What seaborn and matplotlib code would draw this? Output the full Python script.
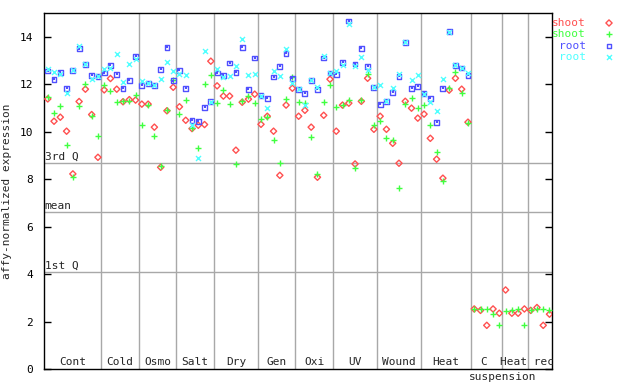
import numpy as np
import pandas as pd
import seaborn as sns
from matplotlib import pyplot as plt

# experiment groups along the x axis and how many samples each holds
groups = ["Cont", "Cold", "Osmo", "Salt", "Dry", "Gen", "Oxi", "UV", "Wound", "Heat", "C", "Heat", "rec"]
group_sizes = [9, 6, 6, 6, 7, 6, 6, 7, 7, 8, 5, 4, 4]

shoot_red = [
    11.38, 10.44, 10.61, 10.02, 8.22, 11.27, 11.79, 10.72, 8.92,
    11.76, 12.24, 11.79, 11.26, 11.35, 11.33,
    11.16, 11.16, 10.19, 8.50, 10.88, 11.87,
    11.05, 10.48, 10.13, 10.27, 10.30, 12.97,
    11.93, 11.50, 11.50, 9.22, 11.24, 11.37, 11.58,
    10.31, 10.65, 10.02, 8.16, 11.12, 11.83,
    10.65, 10.90, 10.19, 8.08, 10.69, 12.21,
    10.02, 11.12, 11.20, 8.64, 11.28, 12.25, 10.10,
    10.65, 10.10, 9.51, 8.67, 11.28, 10.99, 10.57,
    10.74, 9.72, 8.84, 8.04, 11.75, 12.25, 11.79, 10.40,
    2.53, 2.47, 1.84, 2.53, 2.35,
    3.33, 2.35, 2.35, 2.53,
    2.47, 2.59, 1.84, 2.31,
]
shoot_green = [
    11.45, 10.78, 11.07, 9.44, 8.08, 11.07, 12.00, 10.68, 9.81,
    11.96, 11.72, 11.24, 11.31, 11.28, 11.54,
    10.30, 11.12, 9.81, 8.57, 10.92, 12.17,
    10.74, 11.33, 10.15, 9.30, 12.00, 12.38,
    11.21, 11.75, 11.16, 8.64, 11.28, 11.50, 11.20,
    10.55, 10.61, 9.64, 8.67, 11.37, 12.30,
    11.24, 11.20, 9.77, 8.22, 11.24, 11.96,
    11.03, 11.12, 11.33, 8.46, 11.33, 12.42, 10.27,
    10.44, 9.72, 9.64, 7.61, 11.16, 11.41, 10.99,
    11.12, 10.27, 9.13, 7.91, 11.83, 12.52, 11.62, 10.36,
    2.53, 2.53, 2.53, 2.31, 1.84,
    2.44, 2.47, 2.53, 1.84,
    2.47, 2.53, 2.53, 2.47,
]
root_blue = [
    12.56, 12.21, 12.51, 11.83, 12.59, 13.49, 12.83, 12.37, 12.34,
    12.47, 12.80, 12.42, 11.83, 12.17, 13.18,
    11.96, 12.03, 11.96, 12.63, 13.56, 12.14,
    12.59, 11.83, 10.48, 10.44, 11.02, 11.26,
    12.47, 12.38, 12.89, 12.51, 13.56, 11.79, 13.10,
    11.52, 11.41, 12.30, 12.76, 13.31, 12.25,
    11.79, 11.62, 12.17, 11.79, 13.10, 12.47,
    12.42, 12.93, 14.66, 12.85, 13.52, 12.76, 11.87,
    11.16, 11.28, 11.66, 12.34, 13.77, 11.83, 11.92,
    11.62, 11.41, 10.40, 11.83, 14.22, 12.79, 12.68, 12.38,
]
root_cyan = [
    12.63, 12.51, 12.44, 11.62, 12.59, 13.62, 12.86, 12.24, 12.34,
    12.63, 12.69, 13.27, 12.10, 12.86, 13.07,
    12.13, 12.03, 11.96, 12.21, 12.93, 12.55,
    12.44, 12.38, 10.26, 8.88, 13.41, 11.26,
    12.62, 12.30, 12.34, 12.76, 13.90, 12.38, 12.42,
    11.52, 10.99, 12.55, 12.34, 13.48, 12.04,
    11.79, 11.12, 12.17, 11.87, 13.17, 12.47,
    12.55, 12.80, 14.55, 12.76, 13.14, 12.59, 11.87,
    11.96, 11.28, 11.83, 12.42, 13.77, 12.17, 12.38,
    11.58, 11.24, 10.86, 12.21, 14.22, 12.79, 12.68, 12.47,
]

q3_value = 8.67
mean_value = 6.61
q1_value = 4.08

series = [
    ("shoot", shoot_red, "#ff5050", "D"),
    ("shoot", shoot_green, "#40ff40", "+"),
    ("root", root_blue, "#5050ff", "s"),
    ("root", root_cyan, "#50ffff", "x"),
]

sns.set_style("ticks")
plt.rcParams["font.family"] = ["DejaVu Sans Mono"]
plt.rcParams["font.size"] = 8

fig = plt.figure(figsize=(6.4, 3.84), dpi=100)
ax = fig.add_axes([44 / 640, 15 / 384, 508 / 640, 356 / 384])

n_total = sum(group_sizes)
ax.set_xlim(-0.6, n_total - 0.6)
ax.set_ylim(0, 15)

grid_col = "#a8a8a8"
bounds = np.cumsum(group_sizes)[:-1] - 0.5
for b in bounds:
    ax.axvline(b, color=grid_col, lw=1, zorder=1)
for v, name in [(q3_value, "3rd Q"), (mean_value, "mean"), (q1_value, "1st Q")]:
    ax.axhline(v, color=grid_col, lw=1, zorder=1)
    ax.text(-0.5, v + 0.05, name, ha="left", va="bottom", fontsize=8)

sizes = {"D": 10, "s": 12, "+": 15, "x": 13}
for i, (label, vals, col, mk) in enumerate(series):
    df = pd.DataFrame({"sample": np.arange(len(vals)), "value": vals})
    if mk in ("D", "s"):
        sns.scatterplot(data=df, x="sample", y="value", ax=ax, marker=mk,
                        s=sizes[mk], color=col, facecolor="none",
                        edgecolor=col, linewidth=1, zorder=3 + i)
        if mk == "s":
            sns.scatterplot(data=df, x="sample", y="value", ax=ax, marker="s",
                            s=1.5, color=col, linewidth=0, zorder=3 + i)
    else:
        sns.scatterplot(data=df, x="sample", y="value", ax=ax, marker=mk,
                        s=sizes[mk], color=col, linewidth=1, zorder=3 + i)

# group labels
starts = np.concatenate([[0], np.cumsum(group_sizes)[:-1]])
centers = starts + (np.array(group_sizes) - 1) / 2
lbl_tr = ax.get_xaxis_transform()
for k, name in enumerate(groups[:10]):
    ax.text(centers[k], 0.006, name, ha="center", va="bottom", fontsize=8, transform=lbl_tr)
ax.text(centers[10] - 0.5, 0.006, "C", ha="center", va="bottom", fontsize=8, transform=lbl_tr)
ax.text(bounds[10], -0.008, "suspension", ha="center", va="top", fontsize=8,
        transform=lbl_tr, clip_on=False)
ax.text(bounds[11] - 0.1, 0.006, "Heat rec", ha="center", va="bottom", fontsize=8, transform=lbl_tr)

ax.set_xticks([])
ax.set_yticks(range(0, 15, 2))
ax.tick_params(axis="y", direction="in", length=5, width=1, left=True, right=True,
               labelsize=8, pad=8, colors="black")
for sp in ax.spines.values():
    sp.set_visible(True)
    sp.set_color("black")
    sp.set_linewidth(1)
ax.set_xlabel("")
ax.set_ylabel("affy-normalized expression", fontsize=8)
ax.yaxis.set_label_coords(-0.063, 0.5)

# legend drawn to the right of the plot
leg_y = [23, 34, 46, 57]
for (label, vals, col, mk), y in zip(series, leg_y):
    fy = 1 - y / 384
    fig.text(586 / 640, fy, label, color=col, ha="right", va="center", fontsize=8)
    if mk in ("D", "s"):
        ax.scatter([609 / 640], [fy], transform=fig.transFigure, marker=mk, s=sizes[mk],
                   facecolor="none", edgecolor=col, linewidth=1, clip_on=False)
    else:
        ax.scatter([609 / 640], [fy], transform=fig.transFigure, marker=mk, s=sizes[mk],
                   color=col, linewidth=1, clip_on=False)

fig.savefig("out.png", dpi=100)
